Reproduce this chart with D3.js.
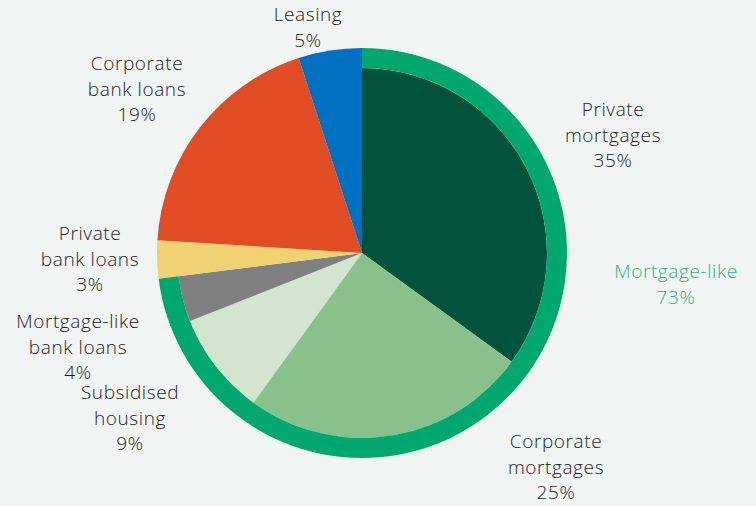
<!DOCTYPE html>
<html>
<head>
<meta charset="utf-8">
<script src="https://cdn.jsdelivr.net/npm/d3@7"></script>
<style>
  html, body { margin: 0; padding: 0; background: #f0f4f2; }
  svg { display: block; }
  text { font-family: "Open Sans", "Lato", sans-serif; font-weight: 350; letter-spacing: 0.6px; }
</style>
</head>
<body>
<svg id="chart" width="756" height="506"></svg>
<script>
// Loan book composition, clockwise from 12 o'clock
const categories = ["Private mortgages", "Corporate mortgages", "Subsidised housing",
  "Mortgage-like bank loans", "Private bank loans", "Corporate bank loans", "Leasing"];
const shares = [35, 25, 9, 4, 3, 19, 5];
const mortgageLike = [true, true, true, true, false, false, false];
const sliceColors = ["#00533a", "#88c28a", "#d3e4cf", "#808080", "#f1d273", "#e04c23", "#0070c0"];
const labelLines = [["Private", "mortgages"], ["Corporate", "mortgages"], ["Subsidised", "housing"],
  ["Mortgage-like", "bank loans"], ["Private", "bank loans"], ["Corporate", "bank loans"], ["Leasing"]];
const labelPos = [[613, 110], [556, 442], [130, 393], [78, 322], [90, 234], [137, 64], [308, 15]];
const groupLabel = "Mortgage-like";

const svg = d3.select("#chart");
const cx = 362, cy = 253, R = 205, ringW = 20;
const g = svg.append("g").attr("transform", `translate(${cx},${cy})`);

const data = categories.map((c, i) => ({ name: c, value: shares[i], inRing: mortgageLike[i], color: sliceColors[i], i }));
const pie = d3.pie().value(d => d.value).sort(null);
const arcs = pie(data);

const arcFull = d3.arc().innerRadius(0).outerRadius(R);
const arcInner = d3.arc().innerRadius(0).outerRadius(R - ringW);

g.selectAll("path.slice").data(arcs).join("path")
  .attr("class", "slice")
  .attr("d", d => d.data.inRing ? arcInner(d) : arcFull(d))
  .attr("fill", d => d.data.color);

// Outer band spanning the mortgage-like categories
const ringEnd = d3.sum(data.filter(d => d.inRing), d => d.value);
const total = d3.sum(shares);
const ringAngle = d3.scaleLinear().domain([0, total]).range([0, 2 * Math.PI]);
g.append("path")
  .attr("d", d3.arc().innerRadius(R - ringW).outerRadius(R)
    .startAngle(0).endAngle(ringAngle(ringEnd)))
  .attr("fill", "#00a870");

// Category labels
const lineH = 25.5;
const fs = 19;
data.forEach((d, i) => {
  const lines = labelLines[i].concat([d.value + "%"]);
  const t = svg.append("text")
    .attr("text-anchor", "middle")
    .attr("font-size", fs)
    .attr("fill", "#1e1e1e");
  lines.forEach((ln, k) => {
    t.append("tspan").attr("x", labelPos[i][0]).attr("y", labelPos[i][1] + k * lineH + 6).text(ln);
  });
});

// Group label
const gt = svg.append("text")
  .attr("text-anchor", "middle")
  .attr("font-size", fs)
  .attr("fill", "#2db37f");
[groupLabel, ringEnd + "%"].forEach((ln, k) => {
  gt.append("tspan").attr("x", 676).attr("y", 272 + k * lineH + 6).text(ln);
});
</script>
</body>
</html>
